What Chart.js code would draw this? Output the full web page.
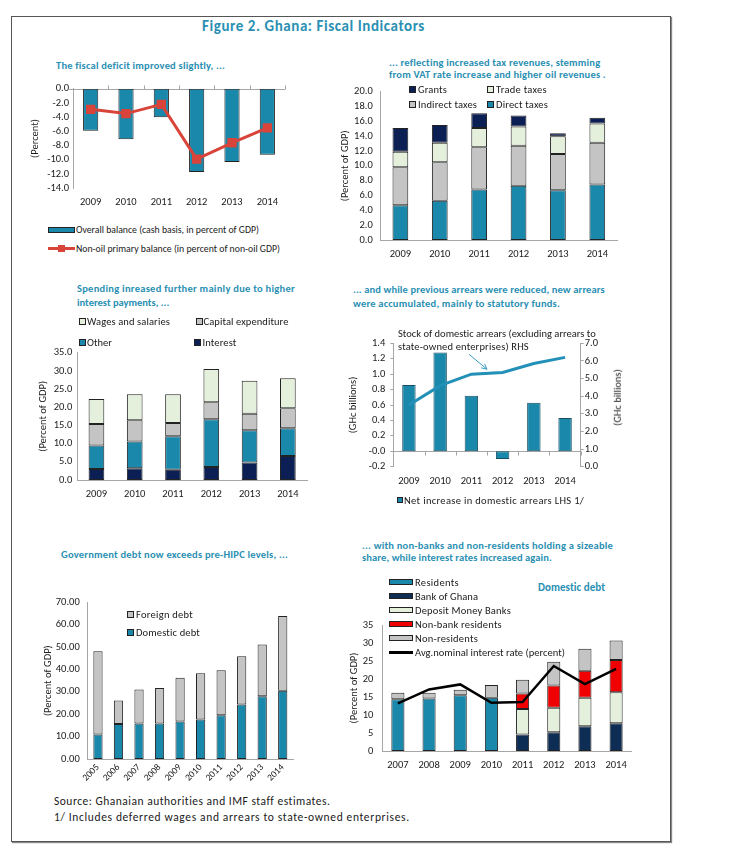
<!DOCTYPE html>
<html><head><meta charset="utf-8">
<script src="https://cdn.jsdelivr.net/npm/chart.js@4.4.1/dist/chart.umd.min.js"></script>
<style>
html,body{margin:0;padding:0;background:#fff;}
#page{position:relative;width:739px;height:863px;overflow:hidden;background:#fff;}
#frame{position:absolute;left:11px;top:16px;width:658px;height:824px;border:1px solid #555;box-shadow:1px 1px 1px #888;}
.txt{position:absolute;white-space:nowrap;transform-origin:0 50%;}
canvas{position:absolute;}
.sw{position:absolute;box-sizing:border-box;}
</style></head><body>
<div id="page"><div id="frame"></div></div>
<script>
// ---------------- DATA ----------------
const years09_14 = ['2009','2010','2011','2012','2013','2014'];
const years05_14 = ['2005','2006','2007','2008','2009','2010','2011','2012','2013','2014'];
const years07_14 = ['2007','2008','2009','2010','2011','2012','2013','2014'];

// Panel 1: fiscal balance
const overallBalance = [-5.9,-7.1,-4.0,-11.7,-10.3,-9.3];
const nonOilPrimaryBalance = [-2.9,-3.5,-2.2,-9.9,-7.6,-5.5];

// Panel 2: revenues (percent of GDP)
const directTaxes = [4.7,5.3,6.8,7.3,6.7,7.5];
const indirectTaxes = [5.1,5.2,5.7,5.4,4.9,5.6];
const tradeTaxes = [2.1,2.6,2.6,2.6,2.4,2.6];
const grants = [3.2,2.4,2.0,1.5,0.4,0.8];

// Panel 3: spending (percent of GDP)
const interestExp = [3.0,3.2,2.8,3.6,4.8,6.6];
const otherExp = [6.5,7.4,9.2,13.1,8.9,7.6];
const capitalExp = [5.9,5.8,3.7,4.7,4.5,5.5];
const wagesSalaries = [6.9,7.2,7.9,9.1,9.1,8.3];

// Panel 4: arrears (GHc billions)
const netArrearsIncrease = [0.86,1.28,0.72,-0.10,0.63,0.43];
const arrearsStock = [3.5,4.6,5.25,5.35,5.85,6.2];

// Panel 5: government debt (percent of GDP)
const domesticDebt = [11.0,15.6,15.9,15.9,16.7,17.7,19.5,24.4,28.0,30.5];
const foreignDebt = [37.1,10.5,15.1,15.8,19.6,20.6,20.1,21.5,23.2,33.4];

// Panel 6: domestic debt holders (percent of GDP)
const residents = [14.4,14.6,15.5,14.8,null,null,null,null];
const bankOfGhana = [null,null,null,null,4.6,5.2,6.9,7.7];
const depositMoneyBanks = [null,null,null,null,7.1,6.8,7.9,8.6];
const nonBankResidents = [null,null,null,null,4.3,6.2,7.5,9.0];
const nonResidents = [1.8,1.6,1.5,3.5,3.8,6.6,6.1,5.4];
const avgInterestRate = [13.2,17.1,18.5,13.4,13.6,23.6,18.6,22.8];

// ---------------- STYLE ----------------
const FONT = "Carlito, 'Liberation Sans Narrow', 'DejaVu Sans Condensed', 'Liberation Sans', sans-serif";
const TXT = '#1a1a1a', AXIS = '#a6a6a6', EDGE = '#222';
const TEAL = '#1a88ab', NAVY = '#0c1f54', LGREEN = '#e4efdc', GRAY = '#c4c4c4', RED = '#d9443a';
const BRED = '#f00000', BOG = '#0e2d55', TITLE = '#2a8fb3';

Chart.defaults.font.family = FONT;
Chart.defaults.font.size = 10.5;
Chart.defaults.color = TXT;
Chart.defaults.animation = false;
Chart.defaults.plugins.legend.display = false;
Chart.defaults.plugins.tooltip.enabled = false;

const page = document.getElementById('page');
const fits = [];
function addText(str, x, yc, size, o = {}) {
  const d = document.createElement('div');
  d.className = 'txt'; d.textContent = str;
  d.style.fontFamily = FONT; d.style.fontSize = size + 'px';
  d.style.lineHeight = Math.round(size * 1.25) + 'px';
  d.style.top = (yc - Math.round(size * 1.25) / 2) + 'px';
  d.style.left = x + 'px';
  if (o.bold) d.style.fontWeight = 'bold';
  d.style.color = o.color || TXT;
  page.appendChild(d);
  if (o.w) fits.push([d, o.w, str.length]);
  return d;
}
function addSw(x, y, w, h, fill, border) {
  const d = document.createElement('div'); d.className = 'sw';
  d.style.left = x + 'px'; d.style.top = y + 'px'; d.style.width = w + 'px'; d.style.height = h + 'px';
  d.style.background = fill; if (border) d.style.border = '1px solid ' + border;
  page.appendChild(d); return d;
}
function mkCanvas(l, t, w, h) {
  const c = document.createElement('canvas');
  c.width = w; c.height = h; c.style.left = l + 'px'; c.style.top = t + 'px';
  c.style.width = w + 'px'; c.style.height = h + 'px';
  page.appendChild(c); return c;
}
function yAxis(o) {
  return {
    type: 'linear', position: o.position || 'left', min: o.min, max: o.max, stacked: !!o.stacked,
    grid: { display: !!o.tick, drawOnChartArea: false, drawTicks: !!o.tick, tickLength: o.tick || 0, color: AXIS },
    border: { display: true, color: AXIS },
    ticks: { stepSize: o.step, padding: o.pad, color: TXT, font: { size: 10.5 }, autoSkip: false,
      callback: v => Number(v).toFixed(o.dec) },
    title: o.title ? { display: true, text: o.title, color: TXT, font: { size: 10.5 },
      padding: { top: o.tOff - 6.3, bottom: 0 } } : { display: false },
    afterFit: s => { s.width = o.w; s.paddingTop = 0; s.paddingBottom = 0; }
  };
}
function xAxis(o) {
  return {
    type: 'category', stacked: !!o.stacked, offset: true,
    grid: { display: false, drawTicks: false },
    border: { display: o.border !== false, color: AXIS },
    ticks: { padding: o.pad, color: TXT, font: { size: o.size || 10.5 }, autoSkip: false,
      maxRotation: o.rot || 0, minRotation: o.rot || 0 },
    afterFit: s => { s.height = o.h; s.paddingLeft = 0; s.paddingRight = 0; }
  };
}
const zeroLine = {
  id: 'zeroLine',
  beforeDatasetsDraw(chart, args, opts) {
    const { ctx, chartArea: { left, right } } = chart;
    const y = Math.round(chart.scales.y.getPixelForValue(0)) + 0.5;
    const n = chart.data.labels.length, w = (right - left) / n;
    ctx.save(); ctx.strokeStyle = AXIS; ctx.lineWidth = 1; ctx.beginPath();
    ctx.moveTo(left - (opts.ext || 0), y); ctx.lineTo(right, y);
    for (let i = 1; i <= n; i++) { const x = Math.round(left + i * w) + 0.5; ctx.moveTo(x, y); ctx.lineTo(x, y + opts.dir * 4); }
    ctx.stroke(); ctx.restore();
  }
};
const arrowNote = {
  id: 'arrowNote',
  afterDatasetsDraw(chart) {
    const meta = chart.getDatasetMeta(0);
    const a = meta.data[2], b = meta.data[3];
    const ex = (a.x + b.x) / 2, ey = (a.y + b.y) / 2 - 4, sx = ex - 18, sy = ey - 15;
    const ang = Math.atan2(ey - sy, ex - sx), L = 6;
    const ctx = chart.ctx; ctx.save(); ctx.strokeStyle = '#3a9cc4'; ctx.lineWidth = 1; ctx.beginPath();
    ctx.moveTo(sx, sy); ctx.lineTo(ex, ey);
    ctx.moveTo(ex - L * Math.cos(ang - 0.45), ey - L * Math.sin(ang - 0.45)); ctx.lineTo(ex, ey);
    ctx.lineTo(ex - L * Math.cos(ang + 0.45), ey - L * Math.sin(ang + 0.45));
    ctx.stroke(); ctx.restore();
  }
};
function bar(label, data, color, pct, extra = {}) {
  return Object.assign({ type: 'bar', label, data, backgroundColor: color, borderColor: EDGE, borderWidth: 1,
    borderSkipped: false, categoryPercentage: 1, barPercentage: pct, order: 1 }, extra);
}

// ---------------- HEADINGS ----------------
addText('Figure 2. Ghana: Fiscal Indicators', 202, 26, 15, { bold: true, color: TITLE, w: 223 });
addText('The fiscal deficit improved slightly, ...', 56, 65, 10.5, { bold: true, color: TITLE, w: 169 });
addText('... reflecting increased tax revenues, stemming', 389, 62, 10.5, { bold: true, color: TITLE, w: 211 });
addText('from VAT rate increase and higher oil revenues .', 389, 74.5, 10.5, { bold: true, color: TITLE, w: 217 });
addText('Spending inreased further mainly due to higher', 77, 288.5, 10.5, { bold: true, color: TITLE, w: 218 });
addText('interest payments, ...', 77, 302, 10.5, { bold: true, color: TITLE });
addText('... and while previous arrears were reduced, new arrears', 353, 289, 10.5, { bold: true, color: TITLE, w: 252 });
addText('were accumulated, mainly to statutory funds.', 353, 303, 10.5, { bold: true, color: TITLE, w: 207 });
addText('Government debt now exceeds pre-HIPC levels, ...', 61, 554, 10.5, { bold: true, color: TITLE, w: 227 });
addText('... with non-banks and non-residents holding a sizeable', 362, 545, 10.5, { bold: true, color: TITLE, w: 251 });
addText('share, while interest rates increased again.', 362, 557, 10.5, { bold: true, color: TITLE, w: 190 });
addText('Domestic debt', 538, 588, 11, { bold: true, color: TITLE, w: 67 });
addText('Source: Ghanaian authorities and IMF staff estimates.', 54, 801, 11.5, { w: 276 });
addText('1/ Includes deferred wages and arrears to state-owned enterprises.', 54, 817, 11.5, { w: 356 });

// ---------------- PANEL 1 ----------------
const L1 = ['Overall balance (cash basis, in percent of GDP)', 'Non-oil primary balance (in percent of non-oil GDP)'];
new Chart(mkCanvas(20, 80, 275, 135), {
  data: { labels: years09_14, datasets: [
    { type: 'line', label: L1[1], data: nonOilPrimaryBalance, borderColor: RED, backgroundColor: RED, borderWidth: 3,
      pointStyle: 'rect', pointRadius: 4.5, pointBackgroundColor: RED, pointBorderColor: RED, order: 0 },
    bar(L1[0], overallBalance, TEAL, 0.43)
  ]},
  options: { responsive: false, devicePixelRatio: 1, layout: { padding: { top: 8.7, right: 10, left: 0, bottom: 0 } },
    scales: { x: xAxis({ h: 26.7, pad: 8, border: false }),
      y: yAxis({ min: -14, max: 0, step: 2, dec: 1, pad: 4, w: 53, title: '(Percent)', tOff: 15 }) },
    plugins: { zeroLine: { dir: -1, ext: 4 } } },
  plugins: [zeroLine]
});
addSw(48, 227, 27, 6, TEAL, EDGE); addText(L1[0], 76, 229.5, 10.5, { w: 183 });
addSw(48, 246.5, 27, 3, RED); addSw(58, 244.5, 7, 7, RED); addText(L1[1], 76, 248, 10.5, { w: 204 });

// ---------------- PANEL 2 ----------------
const L2 = ['Direct taxes', 'Indirect taxes', 'Trade taxes', 'Grants'];
new Chart(mkCanvas(330, 80, 300, 190), {
  data: { labels: years09_14, datasets: [
    bar(L2[0], directTaxes, TEAL, 0.4), bar(L2[1], indirectTaxes, GRAY, 0.4),
    bar(L2[2], tradeTaxes, LGREEN, 0.4), bar(L2[3], grants, NAVY, 0.4)
  ]},
  options: { responsive: false, devicePixelRatio: 1, layout: { padding: { top: 11.7, right: 13, left: 0, bottom: 0 } },
    scales: { x: xAxis({ h: 30, pad: 8, stacked: true }),
      y: yAxis({ min: 0, max: 20, step: 2, dec: 1, pad: 8, w: 50.7, stacked: true, title: '(Percent of GDP)', tOff: 15 }) } }
});
addSw(409, 86, 7, 7, NAVY, EDGE); addText(L2[3], 418, 89.3, 10.5, { w: 29 });
addSw(487, 86, 7, 7, LGREEN, EDGE); addText(L2[2], 496, 89.3, 10.5, { w: 51 });
addSw(409, 101, 7, 7, GRAY, EDGE); addText(L2[1], 418, 104.3, 10.5, { w: 59 });
addSw(487, 101, 7, 7, TEAL, EDGE); addText(L2[0], 496, 104.3, 10.5, { w: 52 });

// ---------------- PANEL 3 ----------------
const L3 = ['Interest', 'Other', 'Capital expenditure', 'Wages and salaries'];
new Chart(mkCanvas(30, 340, 290, 170), {
  data: { labels: years09_14, datasets: [
    bar(L3[0], interestExp, NAVY, 0.41), bar(L3[1], otherExp, TEAL, 0.41),
    bar(L3[2], capitalExp, GRAY, 0.41), bar(L3[3], wagesSalaries, LGREEN, 0.41)
  ]},
  options: { responsive: false, devicePixelRatio: 1, layout: { padding: { top: 12.7, right: 13, left: 0, bottom: 0 } },
    scales: { x: xAxis({ h: 30, pad: 8, stacked: true }),
      y: yAxis({ min: 0, max: 35, step: 5, dec: 1, pad: 5, w: 47.3, stacked: true, title: '(Percent of GDP)', tOff: 13 }) } }
});
addSw(79, 318, 7, 7, LGREEN, EDGE); addText(L3[3], 87, 321, 10.5, { w: 83 });
addSw(196, 318, 7, 7, GRAY, EDGE); addText(L3[2], 203.5, 321, 10.5, { w: 85 });
addSw(79, 339, 7, 7, TEAL, EDGE); addText(L3[1], 87, 342, 10.5, { w: 25 });
addSw(194, 339, 7, 7, NAVY, EDGE); addText(L3[0], 202.5, 342, 10.5, { w: 34 });

// ---------------- PANEL 4 ----------------
const L4 = ['Stock of domestic arrears (excluding arrears to state-owned enterprises) RHS', 'Net increase in domestic arrears LHS 1/'];
new Chart(mkCanvas(340, 320, 300, 180), {
  data: { labels: years09_14, datasets: [
    { type: 'line', label: L4[0], data: arrearsStock, yAxisID: 'y1', borderColor: '#2390b8', borderWidth: 3,
      pointRadius: 0, tension: 0, order: 0 },
    bar(L4[1], netArrearsIncrease, TEAL, 0.43, { borderColor: '#1b4f63' })
  ]},
  options: { responsive: false, devicePixelRatio: 1, layout: { padding: { top: 23.3, right: 0, left: 0, bottom: 0 } },
    scales: { x: xAxis({ h: 33.3, pad: 8, border: false }),
      y: yAxis({ min: -0.2, max: 1.4, step: 0.2, dec: 1, pad: 5, tick: 3, w: 53.3, title: '(GHc billions)', tOff: 13 }),
      y1: yAxis({ position: 'right', min: 0, max: 7, step: 1, dec: 1, pad: 1, tick: 3, w: 59.3 }) },
    plugins: { zeroLine: { dir: 1, ext: 0 } } },
  plugins: [zeroLine, arrowNote]
});
addText('Stock of domestic arrears (excluding arrears to', 398, 333.3, 10.5, { w: 198 });
addText('state-owned enterprises)  RHS', 398, 346, 10.5, { w: 131 });
(function(){
  const d = addText('(GHc billions)', 0, 0, 10.5);
  const w = d.getBoundingClientRect().width, h = d.getBoundingClientRect().height;
  d.style.left = (617 - w / 2) + 'px'; d.style.top = (397 - h / 2) + 'px';
  d.style.transformOrigin = '50% 50%'; d.style.transform = 'rotate(-90deg)';
})();
addSw(397, 497, 6, 6, TEAL, EDGE); addText(L4[1], 404, 500, 10.5, { w: 180 });

// ---------------- PANEL 5 ----------------
const L5 = ['Domestic debt', 'Foreign debt'];
new Chart(mkCanvas(30, 580, 280, 215), {
  data: { labels: years05_14, datasets: [
    bar(L5[0], domesticDebt, TEAL, 0.45), bar(L5[1], foreignDebt, GRAY, 0.45)
  ]},
  options: { responsive: false, devicePixelRatio: 1, layout: { padding: { top: 22.3, right: 17, left: 0, bottom: 0 } },
    scales: { x: xAxis({ h: 36, pad: 3, stacked: true, rot: 45, size: 9.5 }),
      y: yAxis({ min: 0, max: 70, step: 10, dec: 2, pad: 8, w: 57.7, stacked: true, title: '(Percent of GDP)', tOff: 18 }) } }
});
addSw(127, 611, 7, 7, GRAY, EDGE); addText(L5[1], 136, 614, 10.5, { w: 57 });
addSw(127, 629, 7, 7, TEAL, EDGE); addText(L5[0], 136, 632, 10.5, { w: 64 });

// ---------------- PANEL 6 ----------------
const L6 = ['Residents', 'Bank of Ghana', 'Deposit Money Banks', 'Non-bank residents', 'Non-residents', 'Avg.nominal interest rate (percent)'];
new Chart(mkCanvas(340, 600, 310, 180), {
  data: { labels: years07_14, datasets: [
    { type: 'line', label: L6[5], data: avgInterestRate, borderColor: '#000', borderWidth: 2.5, pointRadius: 0, tension: 0, order: 0 },
    bar(L6[0], residents, TEAL, 0.42), bar(L6[1], bankOfGhana, BOG, 0.42),
    bar(L6[2], depositMoneyBanks, LGREEN, 0.42), bar(L6[3], nonBankResidents, BRED, 0.42),
    bar(L6[4], nonResidents, GRAY, 0.42)
  ]},
  options: { responsive: false, devicePixelRatio: 1, layout: { padding: { top: 25, right: 18.3, left: 0, bottom: 0 } },
    scales: { x: xAxis({ h: 29, pad: 8, stacked: true }),
      y: yAxis({ min: 0, max: 35, step: 5, dec: 0, pad: 9, w: 42.3, stacked: true, title: '(Percent of GDP)', tOff: 14 }) } }
});
const sw6 = [TEAL, BOG, LGREEN, BRED, GRAY];
const tw6 = [44, 63, 96, 87, 63, 150];
for (let i = 0; i < 6; i++) {
  const yc = 582 + i * 14;
  if (i < 5) addSw(389, yc - 3, 24, 6, sw6[i], EDGE); else addSw(389, yc - 1.5, 24, 3, '#000');
  addText(L6[i], 415, yc, 10.5, { w: tw6[i] });
}

// ---------------- fit text widths (small corrections only) ----------------
for (const [d, w, n] of fits) {
  const cur = d.getBoundingClientRect().width;
  if (cur <= 0) continue;
  const r = w / cur;
  if (r > 1 && r < 1.35 && n > 1) d.style.letterSpacing = ((w - cur) / n).toFixed(2) + 'px';
  else if (r > 0.82 && r <= 1) d.style.transform = 'scaleX(' + r.toFixed(3) + ')';
}
</script></body></html>
